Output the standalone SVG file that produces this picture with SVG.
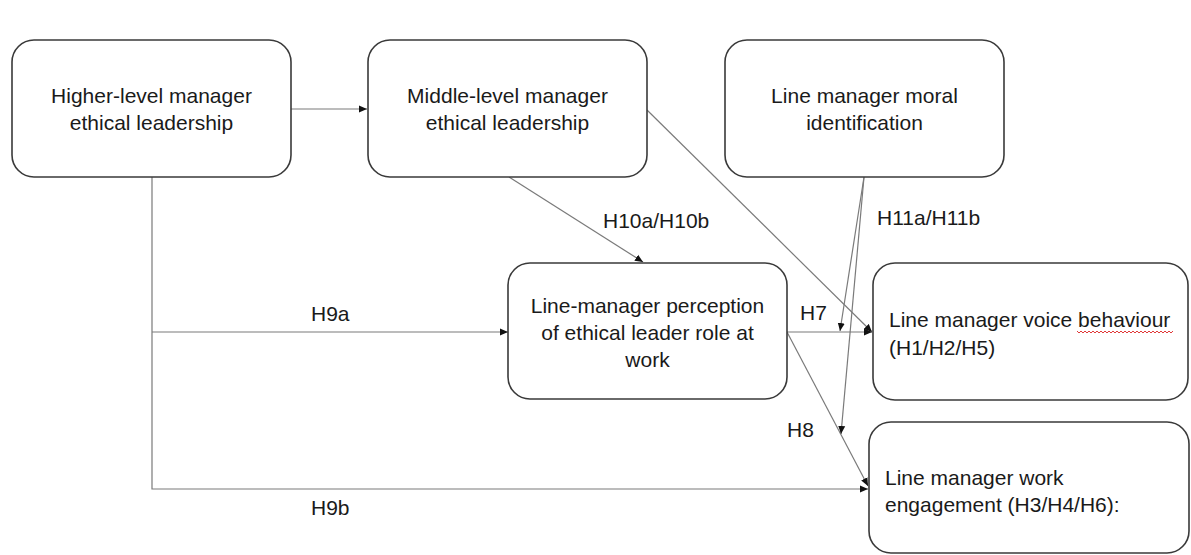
<svg xmlns="http://www.w3.org/2000/svg" width="1191" height="555" viewBox="0 0 1191 555">
<defs>
<marker id="arr" markerUnits="userSpaceOnUse" markerWidth="9" markerHeight="8" refX="8" refY="4" orient="auto">
<path d="M0,0.5 L8,4 L0,7.5 z" fill="#111"/>
</marker>
<style>
.box{fill:#fff;stroke:#3a3a3a;stroke-width:1.6}
.t{font-family:"Liberation Sans",Arial,sans-serif;font-size:21px;fill:#1a1a1a}
.c{text-anchor:middle}
.ln{fill:none;stroke:#7a7a7a;stroke-width:1.2}
</style>
</defs>
<rect width="1191" height="555" fill="#fff"/>
<g id="connectors">
<path class="ln" d="M291,109 H367" marker-end="url(#arr)"/>
<path class="ln" d="M509,177 L643,262" marker-end="url(#arr)"/>
<path class="ln" d="M647,110 L872,332" marker-end="url(#arr)"/>
<path class="ln" d="M152,177 V489 H868" marker-end="url(#arr)"/>
<path class="ln" d="M152,332 H508" marker-end="url(#arr)"/>
<path class="ln" d="M787,332 H872" marker-end="url(#arr)"/>
<path class="ln" d="M787,332 L868,486" marker-end="url(#arr)"/>
<path class="ln" d="M864,177 L840,331" marker-end="url(#arr)"/>
<path class="ln" d="M864,177 L841,434" marker-end="url(#arr)"/>
</g>
<g id="labels">
<text class="t" x="603" y="228">H10a/H10b</text>
<text class="t" x="877" y="225">H11a/H11b</text>
<text class="t" x="311" y="321">H9a</text>
<text class="t" x="311" y="515">H9b</text>
<text class="t" x="800" y="320">H7</text>
<text class="t" x="787" y="437">H8</text>
</g>
<g id="node-higher">
<rect class="box" x="12" y="40" width="279" height="137" rx="22"/>
<text class="t c" x="151.5" y="103">Higher-level manager</text>
<text class="t c" x="151.5" y="130">ethical leadership</text>
</g>
<g id="node-middle">
<rect class="box" x="368" y="40" width="279" height="137" rx="22"/>
<text class="t c" x="507.5" y="103">Middle-level manager</text>
<text class="t c" x="507.5" y="130">ethical leadership</text>
</g>
<g id="node-moral">
<rect class="box" x="725" y="40" width="279" height="137" rx="22"/>
<text class="t c" x="864.5" y="103">Line manager moral</text>
<text class="t c" x="864.5" y="130">identification</text>
</g>
<g id="node-perception">
<rect class="box" x="508" y="263" width="279" height="136" rx="22"/>
<text class="t c" x="647.5" y="313">Line-manager perception</text>
<text class="t c" x="647.5" y="340">of ethical leader role at</text>
<text class="t c" x="647.5" y="367">work</text>
</g>
<g id="node-voice">
<rect class="box" x="873" y="263" width="315" height="137" rx="22"/>
<text class="t" x="889" y="327">Line manager voice behaviour</text>
<text class="t" x="889" y="355">(H1/H2/H5)</text>
<path d="M1077,331 l2,2 l2,-2 l2,2 l2,-2 l2,2 l2,-2 l2,2 l2,-2 l2,2 l2,-2 l2,2 l2,-2 l2,2 l2,-2 l2,2 l2,-2 l2,2 l2,-2 l2,2 l2,-2 l2,2 l2,-2 l2,2 l2,-2 l2,2 l2,-2 l2,2 l2,-2 l2,2 l2,-2 l2,2 l2,-2 l2,2 l2,-2 l2,2 l2,-2 l2,2 l2,-2 l2,2 l2,-2 l2,2 l2,-2 l2,2 l2,-2 l2,2 l2,-2 l2,2 l2,-2" fill="none" stroke="#d22" stroke-width="0.9"/>
</g>
<g id="node-engagement">
<rect class="box" x="869" y="422" width="320" height="131" rx="22"/>
<text class="t" x="885" y="485">Line manager work</text>
<text class="t" x="885" y="512">engagement (H3/H4/H6):</text>
</g>
</svg>
